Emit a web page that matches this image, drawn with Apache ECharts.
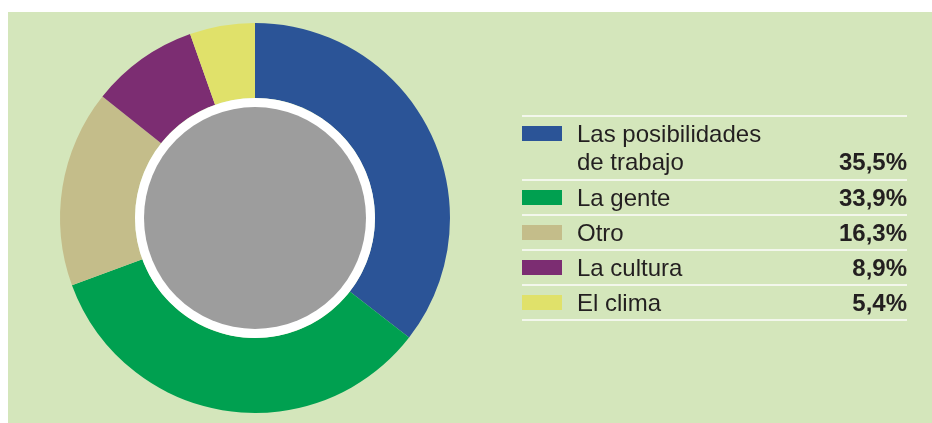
<!DOCTYPE html>
<html>
<head>
<meta charset="utf-8">
<script src="https://cdn.jsdelivr.net/npm/echarts@6/dist/echarts.min.js"></script>
<style>
  html, body { margin: 0; padding: 0; background: #ffffff; }
  #wrap { position: relative; width: 932px; height: 423px; overflow: hidden; }
  #panel { position: absolute; left: 8px; top: 12px; right: 0; bottom: 0; background: #d4e6bb; }
  #chart { position: absolute; left: 0; top: 0; width: 932px; height: 423px; }
</style>
</head>
<body>
<div id="wrap"><div id="panel"></div><div id="chart"></div></div>
<script>
// ---- data ----
const categories = ['Las posibilidades\nde trabajo', 'La gente', 'Otro', 'La cultura', 'El clima'];
const values = [35.5, 33.9, 16.3, 8.9, 5.4];
const valueLabels = ['35,5%', '33,9%', '16,3%', '8,9%', '5,4%'];
const colors = ['#2b5497', '#00a050', '#c4bd8a', '#7c2d72', '#e0e16a'];

// ---- chart ----
const chart = echarts.init(document.getElementById('chart'), null, { renderer: 'canvas' });

const FONT = '"Liberation Sans", Arial, Helvetica, sans-serif';
const tableX0 = 522, tableX1 = 907, textX = 577;
const graphics = [];

// inner white ring and gray disc
graphics.push({ type: 'circle', shape: { cx: 255, cy: 218, r: 120 }, style: { fill: '#ffffff' }, silent: true, z: 10 });
graphics.push({ type: 'circle', shape: { cx: 255, cy: 218, r: 111 }, style: { fill: '#9d9d9d' }, silent: true, z: 11 });

// legend table built from arrays
let y = 116;
const lineGap = 28;
graphics.push({ type: 'rect', shape: { x: tableX0, y: y - 1, width: tableX1 - tableX0, height: 2 }, style: { fill: '#f3f7ec' }, silent: true });
categories.forEach((name, i) => {
  const lines = name.split('\n');
  const rowH = 35 + (lines.length - 1) * 29;
  graphics.push({ type: 'rect', shape: { x: tableX0, y: y + 10, width: 40, height: 15 }, style: { fill: colors[i] }, silent: true });
  const baseMid = y + 19;
  lines.forEach((ln, k) => {
    graphics.push({ type: 'text', x: textX, y: baseMid + k * lineGap,
      style: { text: ln, font: '24px ' + FONT, fill: '#231f20', align: 'left', verticalAlign: 'middle' }, silent: true });
  });
  graphics.push({ type: 'text', x: tableX1, y: baseMid + (lines.length - 1) * lineGap,
    style: { text: valueLabels[i], font: 'bold 24px ' + FONT, fill: '#231f20', align: 'right', verticalAlign: 'middle' }, silent: true });
  y += rowH;
  graphics.push({ type: 'rect', shape: { x: tableX0, y: y - 1, width: tableX1 - tableX0, height: 2 }, style: { fill: '#f3f7ec' }, silent: true });
});

chart.setOption({
  animation: false,
  backgroundColor: 'transparent',
  graphic: { elements: graphics },
  series: [{
    type: 'pie',
    center: [255, 218],
    radius: [120, 195],
    startAngle: 90,
    clockwise: true,
    silent: true,
    label: { show: false },
    labelLine: { show: false },
    itemStyle: { borderWidth: 0 },
    data: categories.map((c, i) => ({ name: c, value: values[i], itemStyle: { color: colors[i] } }))
  }]
});
</script>
</body>
</html>
